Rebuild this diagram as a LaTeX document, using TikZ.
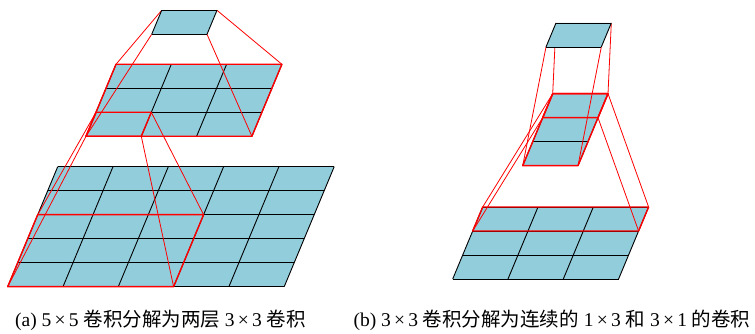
\documentclass[tikz,border=0pt]{standalone}
\usepackage{fontspec}
\setmainfont{Liberation Serif}
\newfontfamily\cjk{Noto Sans CJK SC}
\usepackage{tikz}
\definecolor{cellblue}{RGB}{146,205,220}
\tikzstyle{gridline} = [draw=black, line width=0.9pt]
\tikzstyle{frame} = [draw=red, line width=1.4pt, line join=round]
\tikzstyle{link} = [draw=red, line width=0.8pt]
\tikzstyle{layer} = [x=55.3pt, y=24pt, xslant=0.4167]
\tikzstyle{caption} = [inner sep=0pt, font=\fontsize{19.5}{22}\selectfont]
% parallelogram grid of cells: #1 columns, #2 rows
\newcommand{\cellgrid}[2]{%
  \fill[cellblue] (0,0) rectangle (#1,#2);
  \foreach \i in {0,...,#1} \draw[gridline] (\i,0) -- (\i,#2);
  \foreach \j in {0,...,#2} \draw[gridline] (0,\j) -- (#1,\j);
}

\begin{document}
\begin{tikzpicture}[x=1pt, y=1pt]
\useasboundingbox (0,0) rectangle (755,334);

% (a) 5x5 -> 3x3 -> 1
\begin{scope}[shift={(7.7pt,47.3pt)}, layer]
\cellgrid{5}{5}
\draw[frame] (0,0) rectangle (3,3);
\coordinate (ab1) at (0,0);
\coordinate (ab2) at (3,0);
\coordinate (ab3) at (3,3);
\coordinate (ab4) at (0,3);
\end{scope}
\begin{scope}[shift={(86pt,197.7pt)}, layer]
\cellgrid{3}{3}
\draw[frame] (0,0) rectangle (3,3);
\draw[frame] (0,0) rectangle (1,1);
\coordinate (am1) at (0,0);
\coordinate (am2) at (3,0);
\coordinate (am3) at (3,3);
\coordinate (am4) at (0,3);
\coordinate (ac1) at (0,0);
\coordinate (ac2) at (1,0);
\coordinate (ac3) at (1,1);
\coordinate (ac4) at (0,1);
\end{scope}
\begin{scope}[shift={(151.7pt,299.7pt)}, layer]
\coordinate (at1) at (0,0);
\coordinate (at2) at (1,0);
\coordinate (at3) at (1,1);
\coordinate (at4) at (0,1);
\end{scope}
\foreach \k in {1,...,4} {
  \draw[link] (ac\k) -- (ab\k);
  \draw[link] (at\k) -- (am\k);
}
\begin{scope}[shift={(151.7pt,299.7pt)}, layer]
\cellgrid{1}{1}
\end{scope}

% (b) 3x3 -> 1x3 -> 1
\begin{scope}[shift={(452.7pt,55pt)}, layer]
\cellgrid{3}{3}
\draw[frame] (0,2) rectangle (3,3);
\coordinate (bb1) at (0,2);
\coordinate (bb2) at (3,2);
\coordinate (bb3) at (3,3);
\coordinate (bb4) at (0,3);
\end{scope}
\begin{scope}[shift={(522.7pt,168.3pt)}, layer]
\cellgrid{1}{3}
\draw[frame] (0,0) rectangle (1,3);
\draw[frame] (0,2) rectangle (1,3);
\coordinate (bm1) at (0,0);
\coordinate (bm2) at (1,0);
\coordinate (bm3) at (1,3);
\coordinate (bm4) at (0,3);
\coordinate (bc1) at (0,2);
\coordinate (bc2) at (1,2);
\coordinate (bc3) at (1,3);
\coordinate (bc4) at (0,3);
\end{scope}
\begin{scope}[shift={(546pt,287pt)}, layer]
\coordinate (bt1) at (0,0);
\coordinate (bt2) at (1,0);
\coordinate (bt3) at (1,1);
\coordinate (bt4) at (0,1);
\end{scope}
\foreach \k in {1,...,4} {
  \draw[link] (bc\k) -- (bb\k);
  \draw[link] (bt\k) -- (bm\k);
}
\begin{scope}[shift={(546pt,287pt)}, layer]
\cellgrid{1}{1}
\end{scope}

% captions
\node[caption] (capa) at (160.5,14) {(a) 5\,×\,5 {\cjk 卷积分解为两层} 3\,×\,3 {\cjk 卷积}};
\node[caption] (capb) at (552,14) {(b) 3\,×\,3 {\cjk 卷积分解为连续的} 1\,×\,3 {\cjk 和} 3\,×\,1 {\cjk 的卷积}};
\end{tikzpicture}
\end{document}
